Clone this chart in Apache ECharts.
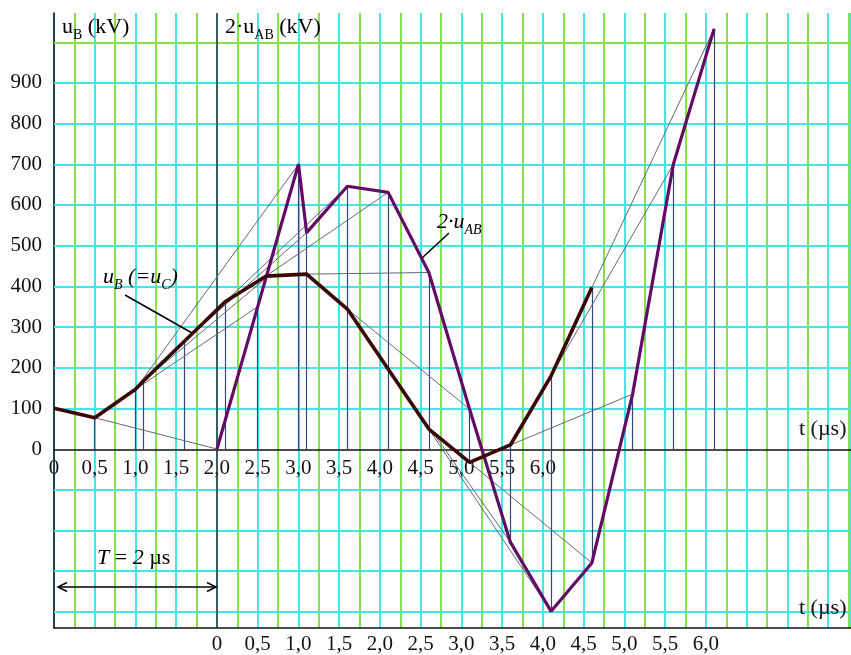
<!DOCTYPE html>
<html><head><meta charset="utf-8">
<script src="https://cdn.jsdelivr.net/npm/echarts@6/dist/echarts.min.js"></script>
<style>html,body{margin:0;padding:0;background:#fff}#c{width:851px;height:655px}</style>
</head><body><div id="c"></div>
<script>
// u_B (= u_C) polyline, time on upper axis (µs), value kV
const ubTimes  = [0, 0.5, 1.0, 1.1, 1.6, 2.1, 2.6, 3.1, 3.6, 4.1, 4.6, 5.1, 5.6, 6.1, 6.6];
const ubValues = [100, 77, 147, 168, 265, 362, 425, 430, 344, 197, 49, -33, 10, 180, 397];
// 2·u_AB polyline (upper-axis time)
const uabTimes  = [2.0, 2.5, 3.0, 3.1, 3.6, 4.1, 4.6, 5.1, 5.6, 6.1, 6.6, 7.1, 7.6, 8.1];
const uabValues = [0, 350, 700, 532, 646, 631, 434, 98, -229, -399, -280, 135, 700, 1033];
// construction lines (from u_B point to 2·u_AB point)
const conStartT = [0.5, 1.0, 1.0, 1.1, 1.6, 2.1, 2.6, 3.1, 3.6, 4.1, 4.6, 5.1, 5.6, 6.1, 6.6];
const conStartV = [77, 147, 147, 168, 265, 362, 425, 430, 344, 197, 49, -33, 10, 180, 397];
const conEndT   = [2.0, 2.5, 3.0, 2.6, 3.1, 3.6, 4.1, 4.6, 5.1, 5.6, 6.1, 6.6, 7.1, 7.6, 8.1];
const conEndV   = [0, 350, 700, 420, 532, 646, 631, 434, 98, -229, -399, -280, 135, 700, 1033];
// times with vertical projection lines
const markTimes = [0.5, 1.0, 1.1, 1.6, 2.1, 2.5, 3.0, 3.1, 3.6, 4.1, 4.6, 5.1, 5.6, 6.1, 6.6, 7.1, 7.6, 8.1];
// tick labels
const yTickLabels = [0, 100, 200, 300, 400, 500, 600, 700, 800, 900];
const upperTimeLabels = [0, 0.5, 1.0, 1.5, 2.0, 2.5, 3.0, 3.5, 4.0, 4.5, 5.0, 5.5, 6.0];
const lowerTimeLabels = [0, 0.5, 1.0, 1.5, 2.0, 2.5, 3.0, 3.5, 4.0, 4.5, 5.0, 5.5, 6.0];
const gridLevels = [-400, -300, -200, -100, 100, 200, 300, 400, 500, 600, 700, 800, 900, 1000];

const CYAN = '#42e6e6', GREEN = '#84e04c';
const FONT = 'Liberation Serif';
const X_MAX = 9.78, Y_MIN = -440, Y_MAX = 1072;

function fmtT(v) { return v === 0 ? '0' : v.toFixed(1).replace('.', ','); }
function has(arr, v) { return arr.some(a => Math.abs(a - v) < 1e-9); }

const ubData = ubTimes.map((t, i) => [t, ubValues[i]]);
const uabData = uabTimes.map((t, i) => [t, uabValues[i]]);

const conLines = conStartT.map((t, i) => [
  { coord: [t, conStartV[i]] }, { coord: [conEndT[i], conEndV[i]] }
]);

const vertLines = markTimes.map(t => {
  const vals = [0];
  ubTimes.forEach((u, i) => { if (Math.abs(u - t) < 1e-9) vals.push(ubValues[i]); });
  uabTimes.forEach((u, i) => { if (Math.abs(u - t) < 1e-9) vals.push(uabValues[i]); });
  return [{ coord: [t, Math.min(...vals)] }, { coord: [t, Math.max(...vals)] }];
});

const gridLines = gridLevels.map(v => ({ yAxis: v, lineStyle: { color: v === 1000 ? GREEN : CYAN, width: 2, type: 'solid' } }));

const labelStyle = { fontFamily: FONT, fontSize: 21, color: '#111' };

const rich = {
  n: { fontFamily: FONT, fontSize: 22, lineHeight: 26, verticalAlign: 'top', color: '#111' },
  s: { fontFamily: FONT, fontSize: 14, lineHeight: 10, verticalAlign: 'bottom', color: '#111' },
  ni: { fontFamily: FONT, fontSize: 22, lineHeight: 26, verticalAlign: 'top', fontStyle: 'italic', color: '#111' },
  si: { fontFamily: FONT, fontSize: 14, lineHeight: 10, verticalAlign: 'bottom', fontStyle: 'italic', color: '#111' }
};

// plot area: x 54..851, y 13..629 ; zero line at y = 13 + 616*Y_MAX/(Y_MAX-Y_MIN)
const plotH = 616;
const zeroFromTop = plotH * Y_MAX / (Y_MAX - Y_MIN);

const chart = echarts.init(document.getElementById('c'), null, { renderer: 'canvas' });
chart.setOption({
  animation: false,
  backgroundColor: '#fff',
  grid: [
    { left: 54, right: 0, top: 13, bottom: 26, containLabel: false },
    { left: 54, right: 0, top: 13, height: zeroFromTop, containLabel: false }
  ],
  xAxis: [
    { gridIndex: 0, type: 'value', min: 0, max: X_MAX, interval: 0.25,
      axisLine: { show: false, onZero: false }, axisTick: { show: false }, axisLabel: { show: false },
      splitLine: { show: true, lineStyle: { color: [CYAN, GREEN], width: 2 } } },
    { gridIndex: 0, type: 'value', min: -2, max: X_MAX - 2, interval: 0.5, position: 'bottom',
      axisLine: { show: true, onZero: false, lineStyle: { color: '#111', width: 1.5 } },
      axisTick: { show: false }, splitLine: { show: false },
      axisLabel: { ...labelStyle, margin: 6, showMaxLabel: false, showMinLabel: false,
        formatter: v => has(lowerTimeLabels, v) ? fmtT(v) : '' } },
    { gridIndex: 1, type: 'value', min: 0, max: X_MAX, interval: 0.5, position: 'bottom',
      axisLine: { show: true, onZero: false, lineStyle: { color: '#111', width: 1.5 } },
      axisTick: { show: false }, splitLine: { show: false },
      axisLabel: { ...labelStyle, margin: 8, showMaxLabel: false,
        formatter: v => has(upperTimeLabels, v) ? fmtT(v) : '' } }
  ],
  yAxis: [
    { gridIndex: 0, type: 'value', min: Y_MIN, max: Y_MAX,
      axisLine: { show: true, onZero: false, lineStyle: { color: '#111', width: 1.5 } },
      axisTick: { show: false, customValues: yTickLabels },
      splitLine: { show: false },
      axisLabel: { ...labelStyle, margin: 12, padding: [8, 0, 0, 0], customValues: yTickLabels, formatter: v => String(v) } },
    { gridIndex: 1, type: 'value', min: 0, max: Y_MAX, show: false,
      axisLine: { show: false }, splitLine: { show: false }, axisLabel: { show: false } }
  ],
  series: [
    { name: 'grid', type: 'line', data: [], z: 1, silent: true,
      markLine: { silent: true, symbol: 'none', label: { show: false }, animation: false,
        data: gridLines } },
    { name: 'axis2', type: 'line', data: [], z: 2, silent: true,
      markLine: { silent: true, symbol: 'none', label: { show: false }, animation: false,
        lineStyle: { color: '#333', width: 1.5, type: 'solid' },
        data: [{ xAxis: 2.0 }] } },
    { name: 'verticals', type: 'line', data: [], z: 3, silent: true,
      markLine: { silent: true, symbol: 'none', label: { show: false }, animation: false,
        lineStyle: { color: '#34457a', width: 1.2, type: 'solid' },
        data: vertLines } },
    { name: 'construction', type: 'line', data: [], z: 3, silent: true,
      markLine: { silent: true, symbol: 'none', label: { show: false }, animation: false,
        lineStyle: { color: '#5d6b7c', width: 1, type: 'solid' },
        data: conLines } },
    { name: '2uAB', type: 'line', data: uabData, z: 5, symbol: 'none',
      lineStyle: { color: '#620c66', width: 3.2 } },
    { name: 'uB', type: 'line', data: ubData, z: 6, symbol: 'none',
      lineStyle: { color: '#3a0606', width: 3.6 } }
  ],
  graphic: [
    { type: 'text', z: 100, style: { x: 62, y: 29, verticalAlign: 'middle',
        text: '{n|u}{s|B}{n| (kV)}', rich } },
    { type: 'text', z: 100, style: { x: 225, y: 29, verticalAlign: 'middle',
        text: '{n|2·u}{s|AB}{n| (kV)}', rich } },
    { type: 'text', z: 100, style: { x: 103, y: 279, verticalAlign: 'middle',
        text: '{ni|u}{si|B}{ni| (=u}{si|C}{ni|)}', rich } },
    { type: 'text', z: 100, style: { x: 437, y: 224, verticalAlign: 'middle',
        text: '{ni|2·u}{si|AB}', rich } },
    { type: 'text', z: 100, style: { x: 97, y: 560, verticalAlign: 'middle',
        text: '{ni|T}{n| = }{ni|2}{n| µs}', rich } },
    { type: 'text', z: 100, style: { x: 799, y: 429, verticalAlign: 'middle',
        text: 't (µs)', font: '22px "Liberation Serif"', fill: '#111' } },
    { type: 'text', z: 100, style: { x: 799, y: 608, verticalAlign: 'middle',
        text: 't (µs)', font: '22px "Liberation Serif"', fill: '#111' } },
    { type: 'line', z: 100, shape: { x1: 125, y1: 295, x2: 192, y2: 333 }, style: { stroke: '#000', lineWidth: 1.5 } },
    { type: 'line', z: 100, shape: { x1: 449, y1: 233, x2: 422, y2: 258 }, style: { stroke: '#000', lineWidth: 1.5 } },
    { type: 'line', z: 100, shape: { x1: 58, y1: 587, x2: 216, y2: 587 }, style: { stroke: '#000', lineWidth: 1.5 } },
    { type: 'polyline', z: 100, shape: { points: [[67, 582.5], [58, 587], [67, 591.5]] }, style: { stroke: '#000', lineWidth: 1.5, fill: null } },
    { type: 'polyline', z: 100, shape: { points: [[207, 582.5], [216, 587], [207, 591.5]] }, style: { stroke: '#000', lineWidth: 1.5, fill: null } }
  ]
});
</script>
</body></html>
